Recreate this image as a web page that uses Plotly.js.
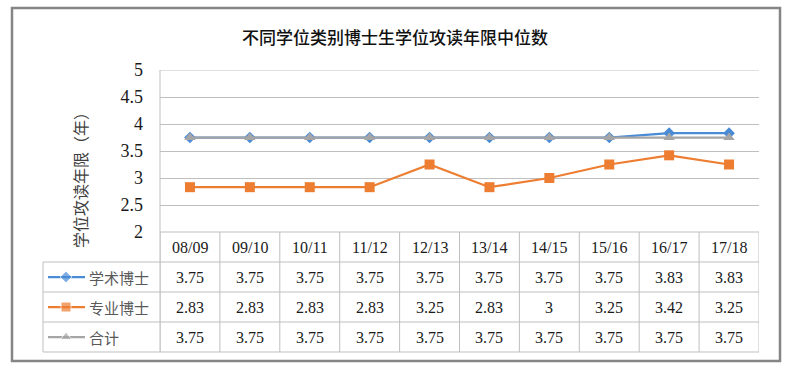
<!DOCTYPE html>
<html><head><meta charset="utf-8">
<script src="https://cdn.plot.ly/plotly-3.0.1.min.js"></script>
<style>html,body{margin:0;padding:0;background:#fff}#chart{width:789px;height:370px}</style>
</head><body><div id="chart"></div>
<script>
const categories = ['08/09','09/10','10/11','11/12','12/13','13/14','14/15','15/16','16/17','17/18'];
const seriesNames = ['学术博士','专业博士','合计'];
const academic = [3.75,3.75,3.75,3.75,3.75,3.75,3.75,3.75,3.83,3.83];
const professional = [2.83,2.83,2.83,2.83,3.25,2.83,3,3.25,3.42,3.25];
const total = [3.75,3.75,3.75,3.75,3.75,3.75,3.75,3.75,3.75,3.75];
const titleText = '不同学位类别博士生学位攻读年限中位数';
const yTitle = '学位攻读年限（年）';

const W = 789, H = 370;
const plotL = 160, plotR = 759, plotT = 70, plotB = 232;
const rowEdges = [232, 262, 292, 322, 352];
const legendL = 43;
const colors = ['#4A8BD6', '#ED7D31', '#A5A5A5'];
const symbols = ['diamond', 'square', 'triangle-up'];
const msizes = [9, 10, 10];
const seriesData = [academic, professional, total];
const gridC = '#BFBFBF';
const cjk = 'Noto Sans CJK SC';
const serif = 'Liberation Serif';

const traces = seriesData.map((d, i) => ({
  type: 'scatter', mode: 'lines+markers', x: categories, y: d, name: seriesNames[i],
  xaxis: 'x', yaxis: 'y', cliponaxis: false,
  line: {color: colors[i], width: 2.25},
  marker: {symbol: symbols[i], size: msizes[i], color: colors[i]},
  hoverinfo: 'skip'
}));
// legend keys inside the data table
seriesData.forEach((d, i) => {
  const yc = (rowEdges[i+1] + rowEdges[i+2]) / 2;
  traces.push({
    type: 'scatter', mode: 'lines+markers', x: [48, 66, 85], y: [yc, yc, yc],
    xaxis: 'x2', yaxis: 'y2', cliponaxis: false, showlegend: false,
    line: {color: colors[i], width: 2.25},
    marker: {symbol: symbols[i], size: [0, msizes[i], 0], color: colors[i]},
    hoverinfo: 'skip'
  });
});

const shapes = [];
const L = (x0, y0, x1, y1, xref, color, w) => shapes.push({type: 'line', xref: xref, yref: 'y2', x0, y0, x1, y1, line: {color: color || gridC, width: w || 1}, layer: 'below'});
// outer frame
shapes.push({type: 'rect', xref: 'x2', yref: 'y2', x0: 12, y0: 8, x1: 780, y1: 361, line: {color: '#858585', width: 2.5}, layer: 'below'});
// plot area left border
L(plotL, plotT, plotL, rowEdges[4], 'x2');
// table horizontal lines
L(plotL, rowEdges[0], plotR, rowEdges[0], 'x2');
for (let r = 1; r < rowEdges.length; r++) L(legendL, rowEdges[r], plotR, rowEdges[r], 'x2');
// legend column left border
L(legendL, rowEdges[1], legendL, rowEdges[4], 'x2');
// column separators, placed by the category axis
for (let c = 0; c <= categories.length; c++) {
  shapes.push({type: 'line', xref: 'x', yref: 'y2', x0: c - 0.5, x1: c - 0.5, y0: rowEdges[0], y1: rowEdges[4], line: {color: gridC, width: 1}, layer: 'below'});
}

const annotations = [];
annotations.push({xref: 'x2', yref: 'y2', x: 395, y: 36, text: titleText, showarrow: false, font: {family: cjk, size: 17, color: '#111', weight: 500}});
annotations.push({xref: 'x2', yref: 'y2', x: 80, y: 176, text: yTitle, showarrow: false, textangle: -90, font: {family: cjk, size: 16, color: '#404040'}});
categories.forEach((c, i) => {
  annotations.push({xref: 'x', yref: 'y2', x: i, y: (rowEdges[0] + rowEdges[1]) / 2, text: c, showarrow: false, font: {family: serif, size: 16, color: '#1a1a1a'}});
  seriesData.forEach((d, s) => {
    annotations.push({xref: 'x', yref: 'y2', x: i, y: (rowEdges[s+1] + rowEdges[s+2]) / 2, text: String(d[i]), showarrow: false, font: {family: serif, size: 16, color: '#1a1a1a'}});
  });
});
seriesNames.forEach((n, s) => {
  annotations.push({xref: 'x2', yref: 'y2', x: 87, y: (rowEdges[s+1] + rowEdges[s+2]) / 2, text: n, xanchor: 'left', showarrow: false, font: {family: cjk, size: 15, color: '#595959'}});
});

const layout = {
  width: W, height: H, margin: {l: 0, r: 0, t: 0, b: 0},
  paper_bgcolor: '#fff', plot_bgcolor: 'rgba(0,0,0,0)', showlegend: false,
  xaxis: {type: 'category', domain: [plotL / W, plotR / W], range: [-0.5, categories.length - 0.5],
    showticklabels: false, showgrid: false, zeroline: false, showline: false, ticks: '', fixedrange: true},
  yaxis: {domain: [(H - plotB) / H, (H - plotT) / H], range: [2, 5], dtick: 0.5, tick0: 2,
    showgrid: true, gridcolor: gridC, gridwidth: 1, zeroline: false, showline: false, ticks: '',
    ticklabelstandoff: 16, tickfont: {family: serif, size: 18, color: '#1a1a1a'}, fixedrange: true},
  xaxis2: {domain: [0, 1], range: [0, W], visible: false, anchor: 'y2', fixedrange: true},
  yaxis2: {domain: [0, 1], range: [H, 0], visible: false, anchor: 'x2', fixedrange: true},
  shapes: shapes, annotations: annotations
};
// top gridline at y=5
shapes.push({type: 'line', xref: 'x', yref: 'y', x0: -0.5, x1: categories.length - 0.5, y0: 5, y1: 5, line: {color: gridC, width: 1}, layer: 'below'});

Plotly.newPlot('chart', traces, layout, {staticPlot: true, displayModeBar: false});
</script></body></html>
